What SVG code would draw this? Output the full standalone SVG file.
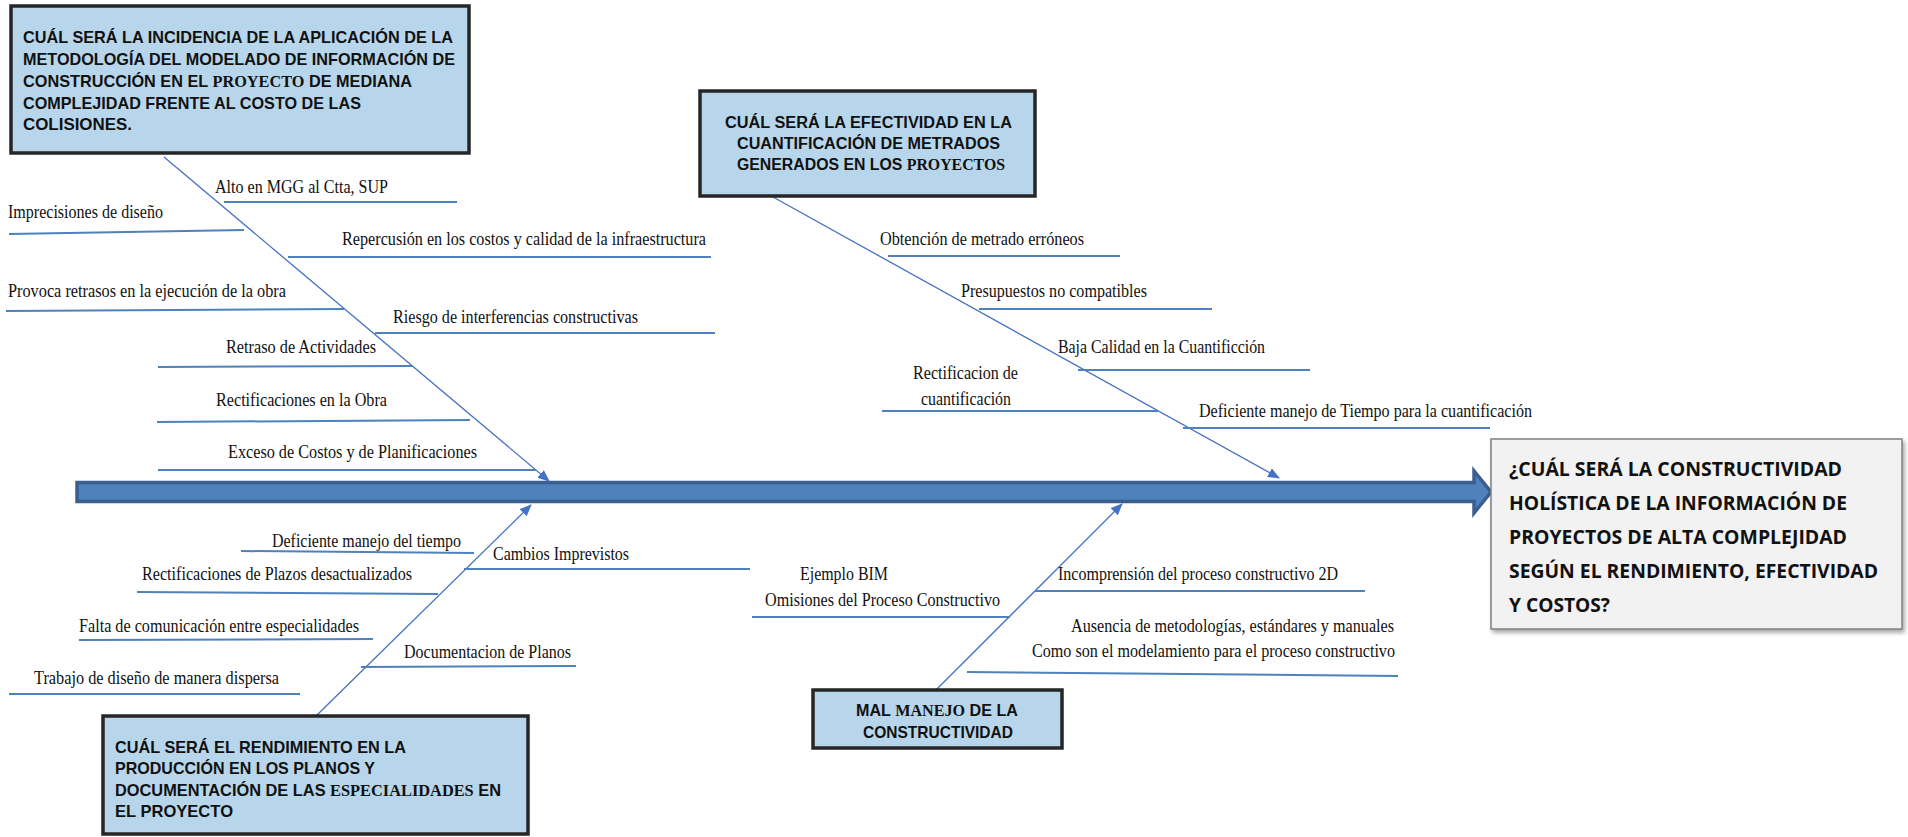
<svg xmlns="http://www.w3.org/2000/svg" width="1908" height="837" viewBox="0 0 1908 837">
  <defs>
    <marker id="tip" viewBox="0 0 12 10" refX="11" refY="5" markerWidth="12" markerHeight="10" markerUnits="userSpaceOnUse" orient="auto">
      <path d="M0,0 L12,5 L0,10 Z" fill="#4472C4"/>
    </marker>
    <filter id="shade" x="-5%" y="-5%" width="110%" height="115%">
      <feDropShadow dx="2" dy="3" stdDeviation="2" flood-color="#000" flood-opacity="0.35"/>
    </filter>
  </defs>
  <style>
    .box { fill: #B8D6EB; stroke: #262626; stroke-width: 3.5; }
    .result { fill: #F2F2F2; stroke: #7F7F7F; stroke-width: 1.5; }
    .bt { font-family: "Liberation Sans", Arial, sans-serif; font-weight: bold; font-size: 17px; fill: #111; }
    .bt2 { font-size: 16px; }
    .serif { font-family: "Liberation Serif", "Times New Roman", serif; }
    .rt { font-family: "Open Sans", "Noto Sans", sans-serif; font-weight: bold; font-size: 20px; fill: #111; }
    .lb { font-family: "Liberation Serif", "Times New Roman", serif; font-size: 18px; fill: #111; }
    .bone { stroke: #4472C4; stroke-width: 1.3; fill: none; }
    .rib { stroke: #4F81BD; stroke-width: 2; fill: none; }
    .spine { fill: #4F81BD; stroke: #3A5F8E; stroke-width: 3.5; stroke-linejoin: miter; }
  </style>

  <rect width="1908" height="837" fill="#FFFFFF"/>

  <!-- main spine with arrow head -->
  <g id="spine">
    <path class="spine" d="M77,482.5 L1474,482.5 L1474,471 L1491,492 L1474,513 L1474,501.5 L77,501.5 Z"/>
  </g>

  <!-- diagonal bones and horizontal ribs -->
  <g id="connectors">
    <line class="bone" x1="164" y1="157" x2="549" y2="481" marker-end="url(#tip)"/>
    <line class="bone" x1="773" y1="197" x2="1279" y2="478" marker-end="url(#tip)"/>
    <line class="bone" x1="316" y1="716" x2="531" y2="505" marker-end="url(#tip)"/>
    <line class="bone" x1="936" y1="690" x2="1122" y2="504" marker-end="url(#tip)"/>

    <!-- upper left -->
    <line class="rib" x1="224" y1="202" x2="457" y2="202"/>
    <line class="rib" x1="9" y1="234" x2="244" y2="230"/>
    <line class="rib" x1="288" y1="257" x2="711" y2="257"/>
    <line class="rib" x1="6" y1="311" x2="344" y2="309"/>
    <line class="rib" x1="375" y1="333" x2="715" y2="333"/>
    <line class="rib" x1="158" y1="367" x2="413" y2="366"/>
    <line class="rib" x1="157" y1="422" x2="470" y2="420"/>
    <line class="rib" x1="158" y1="470" x2="536" y2="470"/>

    <!-- upper right -->
    <line class="rib" x1="888" y1="256" x2="1120" y2="256"/>
    <line class="rib" x1="979" y1="309" x2="1212" y2="309"/>
    <line class="rib" x1="1078" y1="370" x2="1310" y2="370"/>
    <line class="rib" x1="882" y1="411" x2="1158" y2="411"/>
    <line class="rib" x1="1183" y1="428" x2="1490" y2="428"/>

    <!-- lower left -->
    <line class="rib" x1="241" y1="551" x2="474" y2="553"/>
    <line class="rib" x1="464" y1="569" x2="750" y2="569"/>
    <line class="rib" x1="137" y1="592" x2="438" y2="594"/>
    <line class="rib" x1="79" y1="640" x2="373" y2="639"/>
    <line class="rib" x1="361" y1="667" x2="576" y2="666"/>
    <line class="rib" x1="9" y1="694" x2="300" y2="694"/>

    <!-- lower right -->
    <line class="rib" x1="752" y1="617" x2="1010" y2="617"/>
    <line class="rib" x1="1035" y1="591" x2="1365" y2="591"/>
    <line class="rib" x1="967" y1="672" x2="1398" y2="676"/>
  </g>

  <!-- cause labels -->
  <g id="labels">
    <text class="lb" x="215" y="193" textLength="173" lengthAdjust="spacingAndGlyphs">Alto en MGG al Ctta, SUP</text>
    <text class="lb" x="8" y="218" textLength="155" lengthAdjust="spacingAndGlyphs">Imprecisiones de diseño</text>
    <text class="lb" x="342" y="245" textLength="364" lengthAdjust="spacingAndGlyphs">Repercusión en los costos y calidad de la infraestructura</text>
    <text class="lb" x="8" y="297" textLength="278" lengthAdjust="spacingAndGlyphs">Provoca retrasos en la ejecución de la obra</text>
    <text class="lb" x="393" y="323" textLength="245" lengthAdjust="spacingAndGlyphs">Riesgo de interferencias constructivas</text>
    <text class="lb" x="226" y="353" textLength="150" lengthAdjust="spacingAndGlyphs">Retraso de Actividades</text>
    <text class="lb" x="216" y="406" textLength="171" lengthAdjust="spacingAndGlyphs">Rectificaciones en la Obra</text>
    <text class="lb" x="228" y="458" textLength="249" lengthAdjust="spacingAndGlyphs">Exceso de Costos y de Planificaciones</text>

    <text class="lb" x="880" y="245" textLength="204" lengthAdjust="spacingAndGlyphs">Obtención de metrado erróneos</text>
    <text class="lb" x="961" y="297" textLength="186" lengthAdjust="spacingAndGlyphs">Presupuestos no compatibles</text>
    <text class="lb" x="1058" y="353" textLength="207" lengthAdjust="spacingAndGlyphs">Baja Calidad en la Cuantificción</text>
    <text class="lb" x="913" y="379" textLength="105" lengthAdjust="spacingAndGlyphs">Rectificacion de</text>
    <text class="lb" x="921" y="405" textLength="90" lengthAdjust="spacingAndGlyphs">cuantificación</text>
    <text class="lb" x="1199" y="417" textLength="333" lengthAdjust="spacingAndGlyphs">Deficiente manejo de Tiempo para la cuantificación</text>

    <text class="lb" x="272" y="547" textLength="189" lengthAdjust="spacingAndGlyphs">Deficiente manejo del tiempo</text>
    <text class="lb" x="493" y="560" textLength="136" lengthAdjust="spacingAndGlyphs">Cambios Imprevistos</text>
    <text class="lb" x="142" y="580" textLength="270" lengthAdjust="spacingAndGlyphs">Rectificaciones de Plazos desactualizados</text>
    <text class="lb" x="79" y="632" textLength="280" lengthAdjust="spacingAndGlyphs">Falta de comunicación entre especialidades</text>
    <text class="lb" x="404" y="658" textLength="167" lengthAdjust="spacingAndGlyphs">Documentacion de Planos</text>
    <text class="lb" x="34" y="684" textLength="245" lengthAdjust="spacingAndGlyphs">Trabajo de diseño de manera dispersa</text>

    <text class="lb" x="800" y="580" textLength="88" lengthAdjust="spacingAndGlyphs">Ejemplo BIM</text>
    <text class="lb" x="765" y="606" textLength="235" lengthAdjust="spacingAndGlyphs">Omisiones del Proceso Constructivo</text>
    <text class="lb" x="1058" y="580" textLength="280" lengthAdjust="spacingAndGlyphs">Incomprensión del proceso constructivo 2D</text>
    <text class="lb" x="1071" y="632" textLength="323" lengthAdjust="spacingAndGlyphs">Ausencia de metodologías, estándares y manuales</text>
    <text class="lb" x="1032" y="657" textLength="363" lengthAdjust="spacingAndGlyphs">Como son el modelamiento para el proceso constructivo</text>
  </g>

  <!-- category: cost of collisions -->
  <g id="cat-incidencia">
    <rect class="box" x="11" y="6" width="458" height="147"/>
    <text class="bt" x="23" y="43" textLength="430" lengthAdjust="spacingAndGlyphs">CUÁL SERÁ LA INCIDENCIA DE LA APLICACIÓN DE LA</text>
    <text class="bt" x="23" y="65" textLength="432" lengthAdjust="spacingAndGlyphs">METODOLOGÍA DEL MODELADO DE INFORMACIÓN DE</text>
    <text class="bt" x="23" y="87" textLength="389" lengthAdjust="spacingAndGlyphs">CONSTRUCCIÓN EN EL <tspan class="serif">PROYECTO</tspan> DE MEDIANA</text>
    <text class="bt" x="23" y="109" textLength="338" lengthAdjust="spacingAndGlyphs">COMPLEJIDAD FRENTE AL COSTO DE LAS</text>
    <text class="bt" x="23" y="130" textLength="109" lengthAdjust="spacingAndGlyphs">COLISIONES.</text>
  </g>

  <!-- category: quantity take-off effectiveness -->
  <g id="cat-efectividad">
    <rect class="box" x="700" y="91" width="335" height="105"/>
    <text class="bt bt2" x="725" y="128" textLength="287" lengthAdjust="spacingAndGlyphs">CUÁL SERÁ LA EFECTIVIDAD EN LA</text>
    <text class="bt bt2" x="737" y="149" textLength="263" lengthAdjust="spacingAndGlyphs">CUANTIFICACIÓN DE METRADOS</text>
    <text class="bt bt2" x="737" y="170" textLength="268" lengthAdjust="spacingAndGlyphs">GENERADOS EN LOS <tspan class="serif">PROYECTOS</tspan></text>
  </g>

  <!-- category: drawing production performance -->
  <g id="cat-rendimiento">
    <rect class="box" x="103" y="716" width="425" height="118"/>
    <text class="bt" x="115" y="753" textLength="291" lengthAdjust="spacingAndGlyphs">CUÁL SERÁ EL RENDIMIENTO EN LA</text>
    <text class="bt" x="115" y="774" textLength="260" lengthAdjust="spacingAndGlyphs">PRODUCCIÓN EN LOS PLANOS Y</text>
    <text class="bt" x="115" y="796" textLength="386" lengthAdjust="spacingAndGlyphs">DOCUMENTACIÓN DE LAS <tspan class="serif">ESPECIALIDADES</tspan> EN</text>
    <text class="bt" x="115" y="817" textLength="118" lengthAdjust="spacingAndGlyphs">EL PROYECTO</text>
  </g>

  <!-- category: constructability -->
  <g id="cat-constructividad">
    <rect class="box" x="813" y="690" width="249" height="58"/>
    <text class="bt" x="856" y="716" textLength="162" lengthAdjust="spacingAndGlyphs">MAL <tspan class="serif">MANEJO</tspan> DE LA</text>
    <text class="bt" x="863" y="738" textLength="150" lengthAdjust="spacingAndGlyphs">CONSTRUCTIVIDAD</text>
  </g>

  <!-- effect -->
  <g id="effect">
    <rect class="result" x="1491" y="439" width="411" height="190" filter="url(#shade)"/>
    <text class="rt" x="1509" y="476" textLength="333" lengthAdjust="spacingAndGlyphs">¿CUÁL SERÁ LA CONSTRUCTIVIDAD</text>
    <text class="rt" x="1509" y="510" textLength="338" lengthAdjust="spacingAndGlyphs">HOLÍSTICA DE LA INFORMACIÓN DE</text>
    <text class="rt" x="1509" y="544" textLength="338" lengthAdjust="spacingAndGlyphs">PROYECTOS DE ALTA COMPLEJIDAD</text>
    <text class="rt" x="1509" y="578" textLength="369" lengthAdjust="spacingAndGlyphs">SEGÚN EL RENDIMIENTO, EFECTIVIDAD</text>
    <text class="rt" x="1509" y="612" textLength="101" lengthAdjust="spacingAndGlyphs">Y COSTOS?</text>
  </g>
</svg>
